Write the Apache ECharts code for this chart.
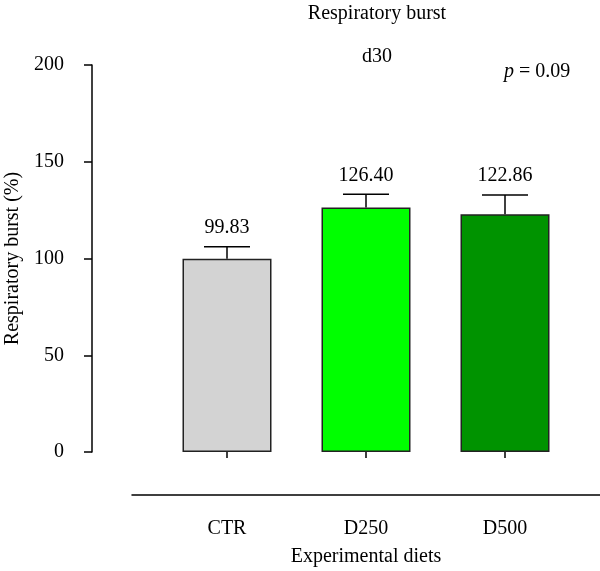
<!DOCTYPE html>
<html>
<head>
<meta charset="utf-8">
<script src="https://cdn.jsdelivr.net/npm/echarts@6/dist/echarts.min.js"></script>
<style>
  html, body { margin: 0; padding: 0; background: #fff; }
  #chart { width: 600px; height: 571px; }
</style>
</head>
<body>
<div id="chart"></div>
<script>
var categories = ['CTR', 'D250', 'D500'];
var means = [99.83, 126.40, 122.86];
var errors = [6.3, 6.8, 10.0];
var barColors = ['#d3d3d3', '#00ff00', '#009300'];
var yTicks = [0, 50, 100, 150, 200];

var FONT = 'Liberation Serif';
var FS = 20;

var myChart = echarts.init(document.getElementById('chart'));

var errData = means.map(function (m, i) {
    return [i, m, m + errors[i]];
});

var option = {
    backgroundColor: '#fff',
    animation: false,
    title: [
        { text: 'Respiratory burst', left: 372, top: -1, textAlign: 'center',
          textStyle: { fontFamily: FONT, fontSize: FS, fontWeight: 'normal', color: '#000' } },
        { text: 'd30', left: 372, top: 42, textAlign: 'center',
          textStyle: { fontFamily: FONT, fontSize: FS, fontWeight: 'normal', color: '#000' } },
        { text: '{i|p} = 0.09', left: 499, top: 57,
          textStyle: { fontFamily: FONT, fontSize: FS, fontWeight: 'normal', color: '#000',
              rich: { i: { fontFamily: FONT, fontSize: FS, fontStyle: 'italic', color: '#000' } } } }
    ],
    grid: [
        { left: 157.5, right: 25.5, top: 65, bottom: 119, outerBoundsMode: 'none' },
        { left: 132, right: 0, top: 65, bottom: 76, outerBoundsMode: 'none' }
    ],
    xAxis: [
        {
            type: 'category',
            gridIndex: 0,
            data: categories,
            offset: 43,
            axisLine: { show: false },
            axisTick: { show: true, alignWithLabel: true, length: 6, lineStyle: { color: '#000', width: 1.5 } },
            axisLabel: { fontFamily: FONT, fontSize: FS, color: '#000', margin: 24 },
            name: 'Experimental diets',
            nameLocation: 'middle',
            nameGap: 52,
            nameTextStyle: { fontFamily: FONT, fontSize: FS, color: '#000' }
        },
        {
            type: 'value',
            gridIndex: 1,
            min: 0, max: 1,
            axisLine: { show: true, lineStyle: { color: '#000', width: 1.5 } },
            axisTick: { show: false },
            axisLabel: { show: false },
            splitLine: { show: false }
        }
    ],
    yAxis: [
        {
            type: 'value',
            gridIndex: 0,
            min: yTicks[0],
            max: yTicks[yTicks.length - 1],
            interval: 50,
            offset: 65.5,
            axisLine: { show: true, lineStyle: { color: '#000', width: 1.5 } },
            axisTick: { show: true, length: 8, lineStyle: { color: '#000', width: 1.5 } },
            axisLabel: { fontFamily: FONT, fontSize: FS, color: '#000', margin: 28 },
            splitLine: { show: false },
            name: 'Respiratory burst (%)',
            nameLocation: 'middle',
            nameRotate: 90,
            nameGap: 68,
            nameTextStyle: { fontFamily: FONT, fontSize: FS, color: '#000' }
        },
        {
            type: 'value',
            gridIndex: 1,
            show: false
        }
    ],
    series: [
        {
            type: 'bar',
            xAxisIndex: 0,
            yAxisIndex: 0,
            barWidth: 89,
            data: means.map(function (v, i) {
                return { value: v, itemStyle: { color: barColors[i], borderColor: '#222', borderWidth: 1.5 } };
            })
        },
        {
            type: 'custom',
            xAxisIndex: 0,
            yAxisIndex: 0,
            data: errData,
            z: 3,
            renderItem: function (params, api) {
                var x = api.value(0);
                var top = api.coord([x, api.value(2)]);
                var base = api.coord([x, api.value(1)]);
                var half = 23;
                var label = means[params.dataIndex].toFixed(2);
                return {
                    type: 'group',
                    children: [
                        { type: 'line', shape: { x1: top[0], y1: base[1], x2: top[0], y2: top[1] },
                          style: { stroke: '#000', lineWidth: 1.5 } },
                        { type: 'line', shape: { x1: top[0] - half, y1: top[1], x2: top[0] + half, y2: top[1] },
                          style: { stroke: '#000', lineWidth: 1.5 } },
                        { type: 'text', x: top[0], y: top[1] - 9,
                          style: { text: label, fill: '#000', font: FS + 'px "Liberation Serif"',
                                   textAlign: 'center', textVerticalAlign: 'bottom' } }
                    ]
                };
            }
        }
    ]
};

myChart.setOption(option);
</script>
</body>
</html>
